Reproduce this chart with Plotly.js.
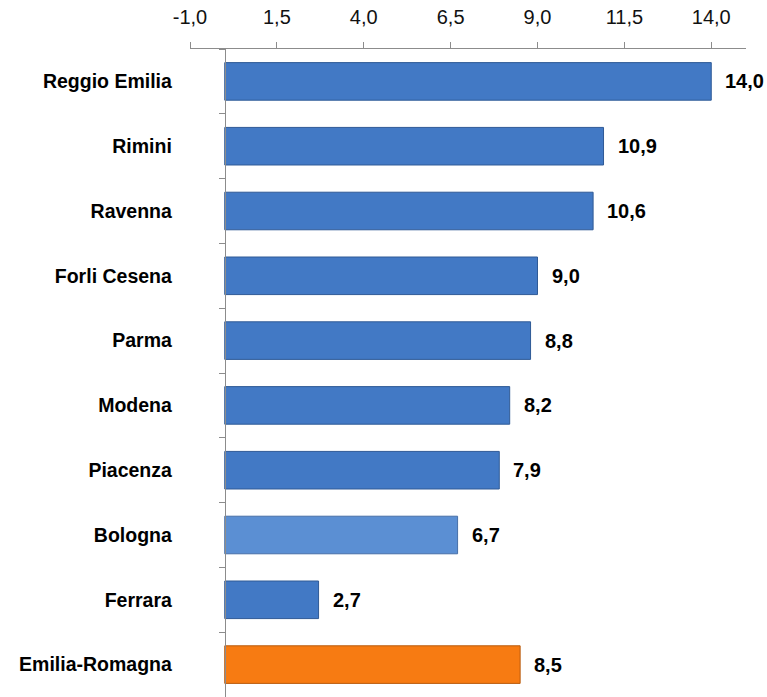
<!DOCTYPE html>
<html>
<head>
<meta charset="utf-8">
<script src="https://cdn.plot.ly/plotly-3.0.1.min.js"></script>
<style>html,body{margin:0;padding:0;background:#fff;}#chart{width:767px;height:697px;}</style>
</head>
<body>
<div id="chart"></div>
<script>
const provinces = ["Reggio Emilia","Rimini","Ravenna","Forli Cesena","Parma","Modena","Piacenza","Bologna","Ferrara","Emilia-Romagna"];
const values = [14.0, 10.9, 10.6, 9.0, 8.8, 8.2, 7.9, 6.7, 2.7, 8.5];
const barColors = ["#4279c5","#4279c5","#4279c5","#4279c5","#4279c5","#4279c5","#4279c5","#5b8fd3","#4279c5","#f77b12"];
const lineColors = ["#2f5a96","#2f5a96","#2f5a96","#2f5a96","#2f5a96","#2f5a96","#2f5a96","#466fa8","#2f5a96","#b85a0c"];
const xTicks = [-1.0, 1.5, 4.0, 6.5, 9.0, 11.5, 14.0];

const fmt = v => v.toFixed(1).replace('.', ',');

const trace = {
  type: 'bar',
  orientation: 'h',
  y: provinces,
  x: values,
  width: 0.58,
  marker: {color: barColors, line: {color: lineColors, width: 1}},
  hoverinfo: 'skip'
};

const annotations = values.map((v, i) => ({
  x: v, y: provinces[i], xref: 'x', yref: 'y',
  text: fmt(v), showarrow: false, xanchor: 'left', xshift: 12,
  font: {family: 'Liberation Sans, Arial, sans-serif', size: 20, color: '#000', weight: 'bold'}
}));

const layout = {
  width: 767, height: 697,
  margin: {l: 190, r: 21, t: 49, b: 0},
  paper_bgcolor: '#fff', plot_bgcolor: '#fff',
  separators: ',.',
  showlegend: false,
  xaxis: {
    side: 'top', range: [-1, 15], tickvals: xTicks, ticktext: xTicks.map(fmt),
    showgrid: false, zeroline: false, showline: true, linecolor: '#8c8c8c', linewidth: 1,
    ticks: 'outside', ticklen: 6, tickcolor: '#8c8c8c',
    ticklabelstandoff: 10,
    tickfont: {family: 'Liberation Sans, Arial, sans-serif', size: 20, color: '#111'}
  },
  yaxis: {
    type: 'category', autorange: 'reversed',
    anchor: 'free', position: 1/16,
    showgrid: false, zeroline: false, showline: true, linecolor: '#8c8c8c', linewidth: 1,
    ticks: 'outside', ticklen: 6, tickcolor: '#8c8c8c', tickson: 'boundaries',
    ticklabelstandoff: 49,
    tickfont: {family: 'Liberation Sans, Arial, sans-serif', size: 19.5, color: '#000', weight: 'bold'}
  },
  annotations: annotations
};

Plotly.newPlot('chart', [trace], layout, {displayModeBar: false, staticPlot: true});
</script>
</body>
</html>
